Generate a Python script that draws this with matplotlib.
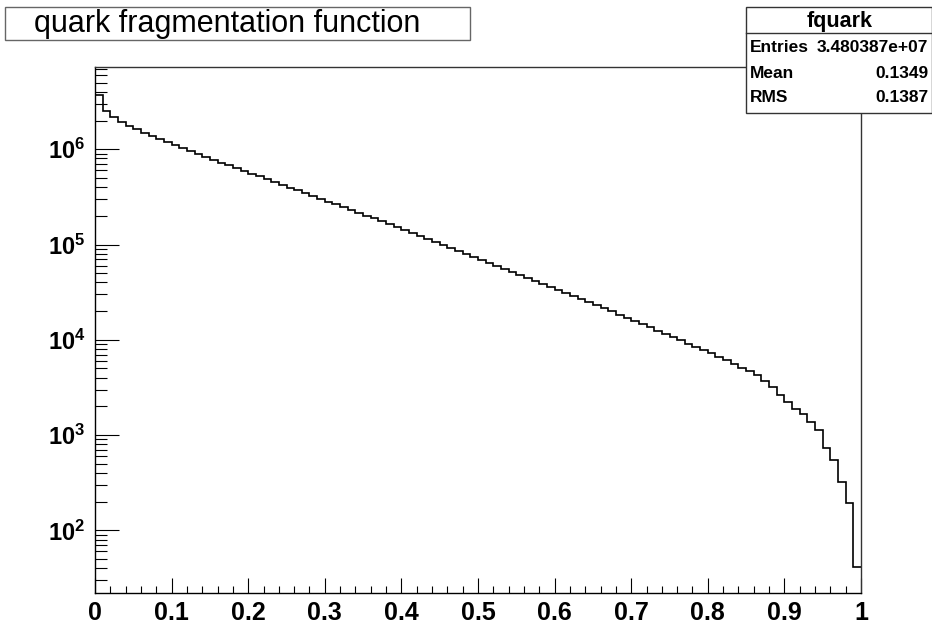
import matplotlib
matplotlib.use("Agg")
import matplotlib.pyplot as plt
import matplotlib.patches as mpatches
from matplotlib.ticker import MultipleLocator, LogLocator, FuncFormatter, NullFormatter
import numpy as np

# fquark histogram: 100 equal bins on [0, 1]
x_lo = 0.0
x_hi = 1.0
counts = [
    3.69e6, 2.50e6, 2.17e6, 1.92e6, 1.74e6, 1.62e6, 1.47e6, 1.37e6, 1.27e6, 1.18e6,
    1.10e6, 1.02e6, 9.53e5, 8.86e5, 8.25e5, 7.66e5, 7.13e5, 6.79e5, 6.32e5, 5.88e5,
    5.47e5, 5.21e5, 4.84e5, 4.51e5, 4.19e5, 3.90e5, 3.71e5, 3.45e5, 3.21e5, 2.99e5,
    2.78e5, 2.65e5, 2.46e5, 2.29e5, 2.13e5, 1.98e5, 1.89e5, 1.756e5, 1.633e5, 1.519e5,
    1.413e5, 1.314e5, 1.222e5, 1.137e5, 1.057e5, 9.83e4, 9.15e4, 8.51e4, 7.91e4, 7.36e4,
    6.85e4, 6.37e4, 5.92e4, 5.51e4, 5.12e4, 4.76e4, 4.43e4, 4.12e4, 3.83e4, 3.56e4,
    3.31e4, 3.08e4, 2.87e4, 2.67e4, 2.48e4, 2.31e4, 2.15e4, 2.00e4, 1.81e4, 1.69e4,
    1.57e4, 1.46e4, 1.36e4, 1.23e4, 1.145e4, 1.065e4, 9.90e3, 8.99e3, 8.36e3, 7.78e3,
    7.23e3, 6.57e3, 6.11e3, 5.55e3, 5.04e3, 4.68e3, 4.25e3, 3.68e3, 3.18e3, 2.62e3,
    2.21e3, 1.87e3, 1.66e3, 1.37e3, 1.13e3, 729, 546, 320, 193, 41,
]
title = "quark fragmentation function"
hist_name = "fquark"
entries = 3.480387e7
mean = 0.1349
rms = 0.1387

W, H = 932, 625
FONT = "Liberation Sans"


def fx(px):
    return px / W


def fy(py):
    return 1 - py / H


plt.rcParams["font.family"] = [FONT, "DejaVu Sans"]
plt.rcParams["mathtext.fontset"] = "custom"
plt.rcParams["mathtext.bf"] = FONT + ":bold"
plt.rcParams["mathtext.rm"] = FONT

fig = plt.figure(figsize=(W / 100, H / 100), dpi=100)
ax = fig.add_axes([fx(95), fy(593), fx(861) - fx(95), fy(67) - fy(593)])

edges = np.linspace(x_lo, x_hi, len(counts) + 1)
ax.stairs(counts, edges, baseline=None, color="black", lw=1.2)

ax.set_yscale("log")
ax.set_xlim(x_lo, x_hi)
ax.set_ylim(22, 7.3e6)

ax.xaxis.set_major_locator(MultipleLocator(0.1))
ax.xaxis.set_minor_locator(MultipleLocator(0.02))
ax.xaxis.set_major_formatter(FuncFormatter(lambda v, p: f"{v:.1f}".rstrip("0").rstrip(".") if v not in (0, 1) else f"{int(round(v))}"))
ax.yaxis.set_major_locator(LogLocator(base=10, numticks=20))
ax.yaxis.set_minor_locator(LogLocator(base=10, subs=np.arange(2, 10), numticks=20))
ax.yaxis.set_major_formatter(FuncFormatter(lambda v, p: r"$\mathbf{10^{%d}}$" % int(round(np.log10(v)))))
ax.yaxis.set_minor_formatter(NullFormatter())

ax.tick_params(axis="x", which="major", direction="in", length=11, width=0.8, labelsize=18, pad=6)
ax.tick_params(axis="x", which="minor", direction="in", length=5, width=0.8)
ax.tick_params(axis="y", which="major", direction="in", length=17, width=0.8, labelsize=17, pad=7)
ax.tick_params(axis="y", which="minor", direction="in", length=8.5, width=0.8)
for lab in ax.get_xticklabels():
    lab.set_fontweight("bold")

for side in ("left", "bottom"):
    ax.spines[side].set_color("black")
    ax.spines[side].set_linewidth(1.0)
for side in ("top", "right"):
    ax.spines[side].set_color("#333333")
    ax.spines[side].set_linewidth(1.0)

# title box
fig.patches.append(mpatches.Rectangle((fx(5), fy(40)), fx(470) - fx(5), fy(7) - fy(40),
                                      transform=fig.transFigure, facecolor="white",
                                      edgecolor="#666666", lw=1.0))
fig.text(fx(227), fy(24), title, ha="center", va="center", fontsize=22)

# statistics box
fig.patches.append(mpatches.Rectangle((fx(746), fy(113)), fx(931.5) - fx(746), fy(7) - fy(113),
                                      transform=fig.transFigure, facecolor="white",
                                      edgecolor="#333333", lw=1.0, zorder=5))
fig.lines.append(plt.Line2D([fx(746), fx(932)], [fy(33), fy(33)], transform=fig.transFigure,
                            color="#333333", lw=1.0, zorder=6))
fig.text(fx(840), fy(21), hist_name, ha="center", va="center", fontsize=15.5, fontweight="bold", zorder=7)
rows = [("Entries", f"{entries:.6e}"), ("Mean", f"{mean:.4f}"), ("RMS", f"{rms:.4f}")]
for (name, val), py in zip(rows, (47, 73, 98)):
    fig.text(fx(750), fy(py), name, ha="left", va="center", fontsize=12.5, fontweight="bold", zorder=7)
    fig.text(fx(928), fy(py), val, ha="right", va="center", fontsize=12.5, fontweight="bold", zorder=7)

fig.savefig("out.png", dpi=100)
